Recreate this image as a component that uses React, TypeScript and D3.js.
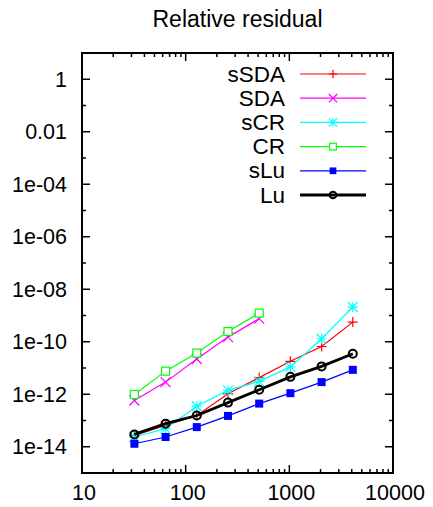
import React from "react";
import * as d3 from "d3";

const sizes = [32, 64, 128, 256, 512, 1024, 2048, 4096];
const sSDA = [2.7e-14, 6.5e-14, 1.55e-13, 1.05e-12, 4.3e-12, 1.8e-11, 6.6e-11, 5.6e-10];
const SDA = [5.8e-13, 2.9e-12, 2.2e-11, 1.5e-10, 7.6e-10];
const sCR = [2.35e-14, 4.9e-14, 3.5e-13, 1.4e-12, 3.1e-12, 1.1e-11, 1.3e-10, 2.1e-9];
const CR = [9.8e-13, 7.6e-12, 3.7e-11, 2.45e-10, 1.23e-9];
const sLu = [1.3e-14, 2.35e-14, 5.6e-14, 1.5e-13, 4.4e-13, 1.1e-12, 2.9e-12, 8.5e-12];
const Lu = [2.95e-14, 7.6e-14, 1.55e-13, 4.8e-13, 1.48e-12, 4.6e-12, 1.15e-11, 3.5e-11];

const xTicks = [10, 100, 1000, 10000];
const yTicks = [1, 1e-2, 1e-4, 1e-6, 1e-8, 1e-10, 1e-12, 1e-14];
const yLabels = ["1", "0.01", "1e-04", "1e-06", "1e-08", "1e-10", "1e-12", "1e-14"];

type Marker = "plus" | "cross" | "star" | "square" | "fsquare" | "circle";
const series: { name: string; values: number[]; color: string; marker: Marker; width: number }[] = [
  { name: "sSDA", values: sSDA, color: "#ff0000", marker: "plus", width: 1.2 },
  { name: "SDA", values: SDA, color: "#ff00ff", marker: "cross", width: 1.2 },
  { name: "sCR", values: sCR, color: "#00ffff", marker: "star", width: 1.2 },
  { name: "CR", values: CR, color: "#00ff00", marker: "square", width: 1.2 },
  { name: "sLu", values: sLu, color: "#0000ff", marker: "fsquare", width: 1.2 },
  { name: "Lu", values: Lu, color: "#000000", marker: "circle", width: 2.8 },
];

const W = 433, H = 507;
const left = 82, right = 393, top = 53, bottom = 473;
const font = "'Liberation Sans', Arial, sans-serif";

const MarkerShape = ({ type, x, y, color, s = 5 }: { type: Marker; x: number; y: number; color: string; s?: number }) => {
  const q = s * 0.8;
  switch (type) {
    case "plus":
      return <path d={`M${x - s},${y}H${x + s}M${x},${y - s}V${y + s}`} stroke={color} strokeWidth={1.2} />;
    case "cross":
      return <path d={`M${x - s},${y - s}L${x + s},${y + s}M${x - s},${y + s}L${x + s},${y - s}`} stroke={color} strokeWidth={1.2} />;
    case "star":
      return <path d={`M${x - s},${y}H${x + s}M${x},${y - s}V${y + s}M${x - s},${y - s}L${x + s},${y + s}M${x - s},${y + s}L${x + s},${y - s}`} stroke={color} strokeWidth={1.2} />;
    case "square":
      return <rect x={x - q} y={y - q} width={2 * q} height={2 * q} fill="white" stroke={color} strokeWidth={1.2} />;
    case "fsquare":
      return <rect x={x - q} y={y - q} width={2 * q} height={2 * q} fill={color} />;
    case "circle":
      return <circle cx={x} cy={y} r={q} fill="none" stroke={color} strokeWidth={2} />;
  }
};

export default function App() {
  const x = d3.scaleLog().domain([10, 10000]).range([left, right]);
  const y = d3.scaleLog().domain([1e-15, 10]).range([bottom, top]);
  const line = d3.line<[number, number]>().x((d) => x(d[0])).y((d) => y(d[1]));

  const xMinor: number[] = [];
  for (let e = 1; e < 4; e++) for (let k = 2; k < 10; k++) xMinor.push(k * Math.pow(10, e));
  const yMinor: number[] = [];
  for (let e = 1; e >= -15; e -= 2) yMinor.push(Math.pow(10, e));

  const legendX = 285, legY0 = 74, legStep = 24.2;

  return (
    <svg width={W} height={H} style={{ position: "absolute", left: 0, top: 0 }} fontFamily={font}>
      <rect width={W} height={H} fill="white" />
      <text x={(left + right) / 2} y={27} fontSize={23} textAnchor="middle">Relative residual</text>

      {/* ticks */}
      {xTicks.map((t) => (
        <g key={"xt" + t}>
          <line x1={x(t)} x2={x(t)} y1={bottom} y2={bottom - 8} stroke="black" strokeWidth={1.5} />
          <line x1={x(t)} x2={x(t)} y1={top} y2={top + 8} stroke="black" strokeWidth={1.5} />
          <text x={x(t) + 2} y={500} fontSize={21.5} textAnchor="middle">{t}</text>
        </g>
      ))}
      {xMinor.map((t) => (
        <g key={"xm" + t}>
          <line x1={x(t)} x2={x(t)} y1={bottom} y2={bottom - 4} stroke="black" strokeWidth={1.5} />
          <line x1={x(t)} x2={x(t)} y1={top} y2={top + 4} stroke="black" strokeWidth={1.5} />
        </g>
      ))}
      {yTicks.map((t, i) => (
        <g key={"yt" + i}>
          <line x1={left} x2={left + 8} y1={y(t)} y2={y(t)} stroke="black" strokeWidth={1.5} />
          <line x1={right} x2={right - 8} y1={y(t)} y2={y(t)} stroke="black" strokeWidth={1.5} />
          <text x={67} y={y(t) + 7.5} fontSize={21.5} textAnchor="end">{yLabels[i]}</text>
        </g>
      ))}
      {yMinor.map((t, i) => (
        <g key={"ym" + i}>
          <line x1={left} x2={left + 4} y1={y(t)} y2={y(t)} stroke="black" strokeWidth={1.5} />
          <line x1={right} x2={right - 4} y1={y(t)} y2={y(t)} stroke="black" strokeWidth={1.5} />
        </g>
      ))}

      {/* series */}
      {series.map((s) => {
        const pts = s.values.map((v, i) => [sizes[i], v] as [number, number]);
        return (
          <g key={s.name}>
            <path d={line(pts) || ""} fill="none" stroke={s.color} strokeWidth={s.width} />
            {pts.map((p, i) => (
              <MarkerShape key={i} type={s.marker} x={x(p[0])} y={y(p[1])} color={s.color} />
            ))}
          </g>
        );
      })}

      {/* legend */}
      {series.map((s, i) => {
        const ly = legY0 + i * legStep;
        return (
          <g key={"leg" + s.name}>
            <text x={legendX} y={ly + 7.5} fontSize={22.5} textAnchor="end">{s.name}</text>
            <line x1={300} x2={366} y1={ly} y2={ly} stroke={s.color} strokeWidth={s.width} />
            <MarkerShape type={s.marker} x={333} y={ly} color={s.color} s={4.2} />
          </g>
        );
      })}

      <rect x={left} y={top} width={right - left} height={bottom - top} fill="none" stroke="black" strokeWidth={2} />
    </svg>
  );
}
